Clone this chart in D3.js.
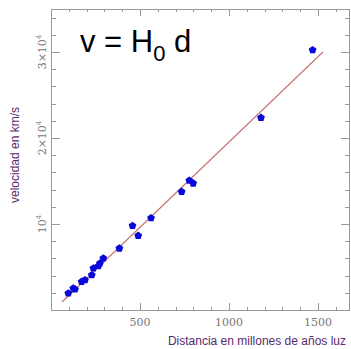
<!DOCTYPE html>
<html>
<head>
<meta charset="utf-8">
<script src="https://cdn.jsdelivr.net/npm/d3@7"></script>
<style>
  body { margin: 0; background: #fff; }
  svg { display: block; }
</style>
</head>
<body>
<svg class="hubble" width="351" height="349"></svg>
<script>
// distance (millions of light years) and velocity (km/s)
const distances = [97, 125, 135, 172, 191, 229, 238, 266, 275, 294, 384, 458, 490, 562, 734, 777, 799, 1180, 1470]
const velocities = [1950, 2520, 2410, 3290, 3490, 4070, 4850, 5120, 5430, 6010, 7170, 9790, 8640, 10700, 13760, 15060, 14730, 22360, 30230]

// fitted line end points
const fitX = [62, 1528]
const fitY = [930, 30000]

const xTickLabels = [500, 1000, 1500]
const yTickValues = [10000, 20000, 30000]
const yTickLabels = ["10", "2\u00d710", "3\u00d710"]

const svg = d3.select("svg.hubble")

const x = d3.scaleLinear()
  .domain([0, 1680])
  .range([51, 350])

const y = d3.scaleLinear()
  .domain([0, 35000])
  .range([310, 9])

const frameColor = "#999"

// frame
svg.append("rect")
  .attr("x", x(0) + 0.5)
  .attr("y", y(35000) + 0.5)
  .attr("width", x(1680) - x(0) - 1)
  .attr("height", y(0) - y(35000))
  .attr("fill", "none")
  .attr("stroke", frameColor)

// ticks on all four sides, pointing inward
const xMinor = d3.range(100, 1680, 100)
const yMinor = d3.range(2000, 35000, 2000)

svg.append("g").selectAll("line")
  .data(xMinor)
  .enter()
  .append("line")
  .attr("x1", d => Math.round(x(d)) + 0.5)
  .attr("x2", d => Math.round(x(d)) + 0.5)
  .attr("y1", y(0))
  .attr("y2", d => y(0) - (d % 500 === 0 ? 7 : 3))
  .attr("stroke", frameColor)

svg.append("g").selectAll("line")
  .data(xMinor)
  .enter()
  .append("line")
  .attr("x1", d => Math.round(x(d)) + 0.5)
  .attr("x2", d => Math.round(x(d)) + 0.5)
  .attr("y1", y(35000))
  .attr("y2", d => y(35000) + (d % 500 === 0 ? 7 : 3))
  .attr("stroke", frameColor)

svg.append("g").selectAll("line")
  .data(yMinor)
  .enter()
  .append("line")
  .attr("y1", d => Math.round(y(d)) + 0.5)
  .attr("y2", d => Math.round(y(d)) + 0.5)
  .attr("x1", x(0))
  .attr("x2", d => x(0) + (d % 10000 === 0 ? 9 : 5))
  .attr("stroke", frameColor)

svg.append("g").selectAll("line")
  .data(yMinor)
  .enter()
  .append("line")
  .attr("y1", d => Math.round(y(d)) + 0.5)
  .attr("y2", d => Math.round(y(d)) + 0.5)
  .attr("x1", x(1680))
  .attr("x2", d => x(1680) - (d % 10000 === 0 ? 9 : 5))
  .attr("stroke", frameColor)

// tick labels
svg.append("g").selectAll("text")
  .data(xTickLabels)
  .enter()
  .append("text")
  .attr("x", d => x(d))
  .attr("y", 326)
  .attr("text-anchor", "middle")
  .attr("font-family", "'DejaVu Serif', serif")
  .attr("font-size", 11)
  .attr("fill", "#777")
  .text(d => d)

const yLab = svg.append("g").selectAll("text")
  .data(yTickValues)
  .enter()
  .append("text")
  .attr("transform", d => `translate(46,${y(d)}) rotate(-90)`)
  .attr("text-anchor", "middle")
  .attr("font-family", "'DejaVu Serif', serif")
  .attr("font-size", 11)
  .attr("fill", "#777")

yLab.append("tspan")
  .text((d, i) => yTickLabels[i])
yLab.append("tspan")
  .attr("dy", -5)
  .attr("font-size", 7)
  .text("4")

// fitted line
svg.append("line")
  .attr("x1", x(fitX[0]))
  .attr("y1", y(fitY[0]))
  .attr("x2", x(fitX[1]))
  .attr("y2", y(fitY[1]))
  .attr("stroke", "#c87070")
  .attr("stroke-width", 1.1)

// pentagon marker
const pentagon = {
  draw(ctx, size) {
    const r = Math.sqrt(size / 2.4)
    for (let k = 0; k < 5; k++) {
      const a = -Math.PI / 2 + k * 2 * Math.PI / 5
      if (k === 0) ctx.moveTo(r * Math.cos(a), r * Math.sin(a))
      else ctx.lineTo(r * Math.cos(a), r * Math.sin(a))
    }
    ctx.closePath()
  }
}

svg.append("g").selectAll("path")
  .data(distances)
  .enter()
  .append("path")
  .attr("transform", (d, i) => `translate(${x(d)},${y(velocities[i])})`)
  .attr("d", d3.symbol().type(pentagon).size(40))
  .attr("fill", "#0808dd")

// formula
const formula = svg.append("text")
  .attr("x", 80)
  .attr("y", 52)
  .attr("font-family", "'Liberation Sans', Arial, sans-serif")
  .attr("font-size", 31)
  .attr("fill", "#000")
formula.append("tspan").text("v = H")
formula.append("tspan").attr("dy", 9).attr("font-size", 22).text("0")
formula.append("tspan").attr("dy", -9).text(" d")

// axis titles
svg.append("text")
  .attr("x", 346)
  .attr("y", 345)
  .attr("text-anchor", "end")
  .attr("font-family", "'Liberation Sans', Arial, sans-serif")
  .attr("font-size", 12)
  .attr("fill", "#5a2a6a")
  .text("Distancia en millones de años luz")

svg.append("text")
  .attr("transform", "translate(19,155) rotate(-90)")
  .attr("text-anchor", "middle")
  .attr("font-family", "'Liberation Sans', Arial, sans-serif")
  .attr("font-size", 12)
  .attr("fill", "#5a2a6a")
  .text("velocidad en km/s")
</script>
</body>
</html>
